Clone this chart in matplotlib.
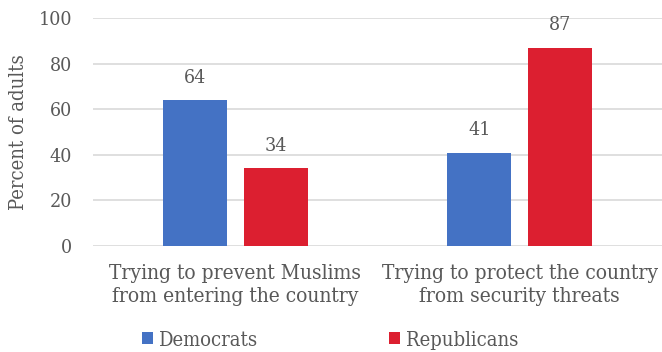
import matplotlib
matplotlib.use('Agg')
import matplotlib.pyplot as plt
import numpy as np

categories = ['Trying to prevent Muslims\nfrom entering the country',
              'Trying to protect the country\nfrom security threats']
democrats = [64, 41]
republicans = [34, 87]
series_names = ['Democrats', 'Republicans']
colors = ['#4472c4', '#dc1f30']
text_color = '#595959'

plt.rcParams['font.family'] = ['DejaVu Serif']
plt.rcParams['font.stretch'] = 'condensed'

fig = plt.figure(figsize=(6.62, 3.52), dpi=100)
ax = fig.add_axes([93 / 662, 106 / 352, 569 / 662, 228 / 352])

x = np.arange(len(categories))
width = 0.225
offset = 0.1424
b1 = ax.bar(x - offset, democrats, width, color=colors[0], label=series_names[0], zorder=3)
b2 = ax.bar(x + offset, republicans, width, color=colors[1], label=series_names[1], zorder=3)

# value labels above the bars
for bars in (b1, b2):
    for bar in bars:
        h = bar.get_height()
        ax.annotate(f'{h:.0f}', xy=(bar.get_x() + bar.get_width() / 2, h),
                    xytext=(0, 9.5), textcoords='offset points',
                    ha='center', va='bottom', fontsize=14, color=text_color)

ax.set_xlim(-0.5, 1.5)
ax.set_ylim(0, 100)
ax.set_yticks(range(0, 101, 20))
ax.yaxis.grid(True, color='#d9d9d9', linewidth=1.2, zorder=0)
ax.set_axisbelow(True)
for spine in ax.spines.values():
    spine.set_visible(False)
ax.tick_params(axis='y', length=0, pad=15, labelsize=14, labelcolor=text_color)
ax.tick_params(axis='x', length=0, pad=13, labelsize=15, labelcolor=text_color)
ax.set_xticks(x)
ax.set_xticklabels(categories, linespacing=1.25)
ax.set_ylabel('Percent of adults', fontsize=14.5, color=text_color, labelpad=8)

leg = ax.legend(loc='center', bbox_to_anchor=(330 / 662, 12 / 352),
                bbox_transform=fig.transFigure, ncol=2, frameon=False,
                handlelength=0.55, handleheight=0.55, handletextpad=0.3,
                columnspacing=6.5, fontsize=14.5)
for t in leg.get_texts():
    t.set_color(text_color)

fig.savefig('out.png', dpi=100, facecolor='white')
